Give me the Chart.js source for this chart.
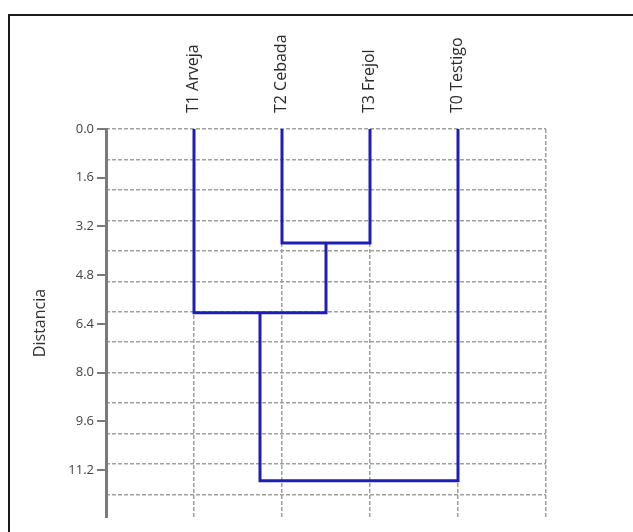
<!DOCTYPE html>
<html>
<head>
<meta charset="utf-8">
<script src="https://cdn.jsdelivr.net/npm/chart.js@4"></script>
<style>
  body { margin: 0; background: #fff; }
  #wrap { position: relative; width: 633px; height: 532px; overflow: hidden; }
  #frame { position: absolute; left: 8px; top: 14px; width: 660px; height: 560px; border: 2px solid #1a1a1a; }
  #dendro { position: absolute; left: 0; top: 0; }
</style>
</head>
<body>
<div id="wrap">
  <div id="frame"></div>
  <canvas id="dendro" width="633" height="532"></canvas>
</div>
<script>
// leaves, left to right
const leafNames = ['T1 Arveja', 'T2 Cebada', 'T3 Frejol', 'T0 Testigo'];
// merges: cluster ids (0-3 leaves, 4+ earlier merges) and join distance
const mergeLeft = [1, 0, 5];
const mergeRight = [2, 4, 3];
const mergeHeight = [3.74, 6.03, 11.55];
// axis values
const yTickValues = [0, 1.6, 3.2, 4.8, 6.4, 8.0, 9.6, 11.2];
const yGridValues = [0, 1, 2, 3, 4, 5, 6, 7, 8, 9, 10, 11, 12];
const xGridValues = [1, 2, 3, 4, 5];

const lineColor = '#1e1eb4';
const gridColor = '#a0a0a0';

// positions of every cluster (leaves sit at 1..n)
let nodeX = leafNames.map((n, i) => i + 1);
let nodeY = leafNames.map(() => 0);
const datasets = [];
for (let i = 0; i < mergeHeight.length; i++) {
  const a = mergeLeft[i], b = mergeRight[i], h = mergeHeight[i];
  datasets.push({
    data: [
      { x: nodeX[a], y: nodeY[a] },
      { x: nodeX[a], y: h },
      { x: nodeX[b], y: h },
      { x: nodeX[b], y: nodeY[b] }
    ],
    borderColor: lineColor,
    borderWidth: 3,
    borderJoinStyle: 'miter',
    pointRadius: 0,
    fill: false,
    tension: 0
  });
  nodeX.push((nodeX[a] + nodeX[b]) / 2);
  nodeY.push(h);
}

const font = "'Open Sans', 'Noto Sans', sans-serif";

new Chart(document.getElementById('dendro').getContext('2d'), {
  type: 'line',
  data: { datasets: datasets },
  options: {
    responsive: false,
    animation: false,
    layout: { padding: { left: 0, right: 87, top: 0, bottom: 15 } },
    plugins: { legend: { display: false }, tooltip: { enabled: false } },
    scales: {
      x: {
        type: 'linear',
        position: 'top',
        min: 0,
        max: 5,
        afterBuildTicks: s => { s.ticks = xGridValues.map(v => ({ value: v })); },
        afterFit: s => { s.height = 129; },
        border: { display: false, dash: [4, 2] },
        grid: { color: gridColor, lineWidth: 1.5, drawTicks: false },
        ticks: {
          minRotation: 90,
          maxRotation: 90,
          padding: 16,
          labelOffset: 19,
          color: '#2a2a2a',
          font: { family: font, size: 16 },
          callback: v => leafNames[v - 1] || ''
        }
      },
      y: {
        type: 'linear',
        position: 'left',
        reverse: true,
        min: 0,
        max: 12.74,
        afterBuildTicks: s => { s.ticks = yTickValues.map(v => ({ value: v })); },
        afterFit: s => { s.width = 106; },
        border: { display: true, color: '#7a7a7a', width: 3 },
        grid: { drawOnChartArea: false, drawTicks: true, tickLength: 9, color: '#7a7a7a', lineWidth: 2 },
        ticks: {
          padding: 3,
          color: '#444',
          font: { family: font, size: 13 },
          callback: v => Number(v).toFixed(1)
        },
        title: {
          display: true,
          text: 'Distancia',
          color: '#333',
          padding: { top: 31, bottom: 0 },
          font: { family: font, size: 16 }
        }
      },
      yGrid: {
        type: 'linear',
        position: 'right',
        reverse: true,
        min: 0,
        max: 12.74,
        afterBuildTicks: s => { s.ticks = yGridValues.map(v => ({ value: v })); },
        afterFit: s => { s.width = 0; },
        border: { display: false, dash: [4, 2] },
        grid: { color: gridColor, lineWidth: 1.5, drawTicks: false },
        ticks: { display: false }
      }
    }
  }
});
</script>
</body>
</html>
